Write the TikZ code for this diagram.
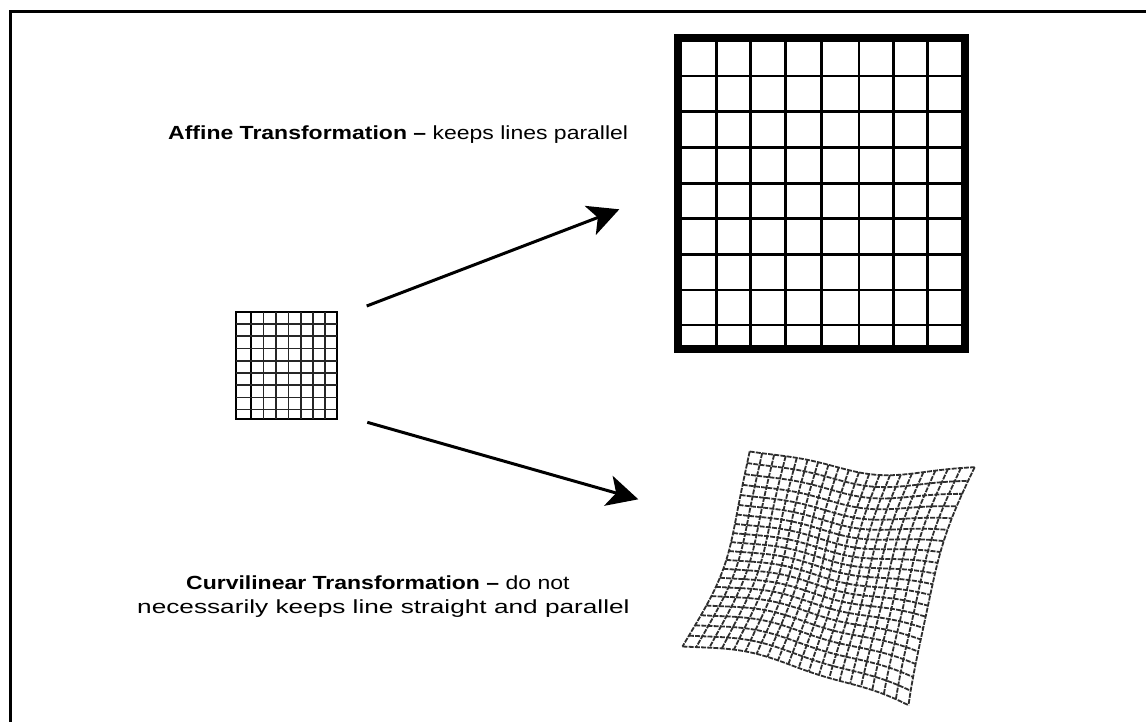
\documentclass[tikz,border=0pt]{standalone}
\usepackage{fontspec}
\setmainfont{Liberation Sans}[FakeStretch=1.21]
\usetikzlibrary{arrows.meta}
\begin{document}
\begin{tikzpicture}[x=1pt,y=-1pt,
  declare function={
    cu(\u,\v)=\u*(1+0.12*(\u*\u+\v*\v))/1.24;
    cv(\u,\v)=\v*(1+0.12*(\u*\u+\v*\v))/1.24;
    bx(\s,\t)=(1-\s)*(1-\t)*750+\s*(1-\t)*975+(1-\s)*\t*684+\s*\t*910;
    by(\s,\t)=(1-\s)*(1-\t)*450+\s*(1-\t)*470+(1-\s)*\t*645+\s*\t*708;
    gx(\u,\v)=bx((cu(\u,\v)+1)/2,(cv(\u,\v)+1)/2)+2*sin(200*\v+30);
    gy(\u,\v)=by((cu(\u,\v)+1)/2,(cv(\u,\v)+1)/2)+3*sin(250*\u+40);
  }]
\tikzset{
  label text/.style={anchor=base west, inner sep=0pt, font=\fontsize{19}{23}\selectfont},
  big arrow/.style={line width=3pt, -{Stealth[length=31pt, width=31pt, inset=8pt]}},
  smallline/.style={line width=1.6pt, draw=black!85},
  bigline/.style={line width=2.7pt, draw=black},
  curvline/.style={line width=1.8pt, draw=black!82, dash pattern=on 5pt off 1.2pt},
}
\useasboundingbox (0,0) rectangle (1146,721);
\fill[white] (0,0) rectangle (1146,721);
% frame
\draw[line width=3pt] (10.5,725) -- (10.5,11) -- (1150,11);

% small grid
\node (small) [draw, line width=2pt, inner sep=0pt, minimum width=101pt, minimum height=107.6pt] at (286.4,365.5) {};
\foreach \x in {250.7,263.3,276,288.3,300.7,312.7,325}
  \draw[smallline] (\x,311.7) -- (\x,419.3);
\draw[line width=2pt] (250.7,311.7) -- (250.7,419.3);
\foreach \y in {324,336,348.3,360.7,372.7,385,397.3,409.3}
  \draw[smallline] (236,\y) -- (336.7,\y);

% big grid
\node (big) [draw, line width=8pt, inner sep=0pt, minimum width=287pt, minimum height=311pt] at (821.5,193.5) {};
\foreach \x in {716.7,750.7,785.7,821.7,859,893.3,927.7}
  \draw[bigline] (\x,38) -- (\x,349);
\foreach \y in {76,111.7,147.7,183.3,218.3,254.3,290,325}
  \draw[bigline] (678,\y) -- (965,\y);

% curvilinear grid
\foreach \i in {0,...,20} {
  \pgfmathsetmacro\uu{-1+\i/10}
  \draw[curvline] plot[smooth, variable=\t, domain=-1:1, samples=21] ({gx(\uu,\t)},{gy(\uu,\t)});
  \draw[curvline] plot[smooth, variable=\t, domain=-1:1, samples=21] ({gx(\t,\uu)},{gy(\t,\uu)});
}

% arrows
\coordinate (a1s) at (366.7,306);
\coordinate (a1e) at (619.3,209.3);
\coordinate (a2s) at (367.3,422.3);
\coordinate (a2e) at (638.3,499.3);
\draw[big arrow] (a1s) -- (a1e);
\draw[big arrow] (a2s) -- (a2e);

% texts
\node (t1) [label text] at (168,139) {\textbf{Affine Transformation –} keeps lines parallel};
\node (t2) [label text] at (186,589) {\textbf{Curvilinear Transformation –} do not};
\node (t3) [label text] at (137,613) {\scalebox{1.14}[1]{necessarily keeps line straight and parallel}};
\end{tikzpicture}
\end{document}
